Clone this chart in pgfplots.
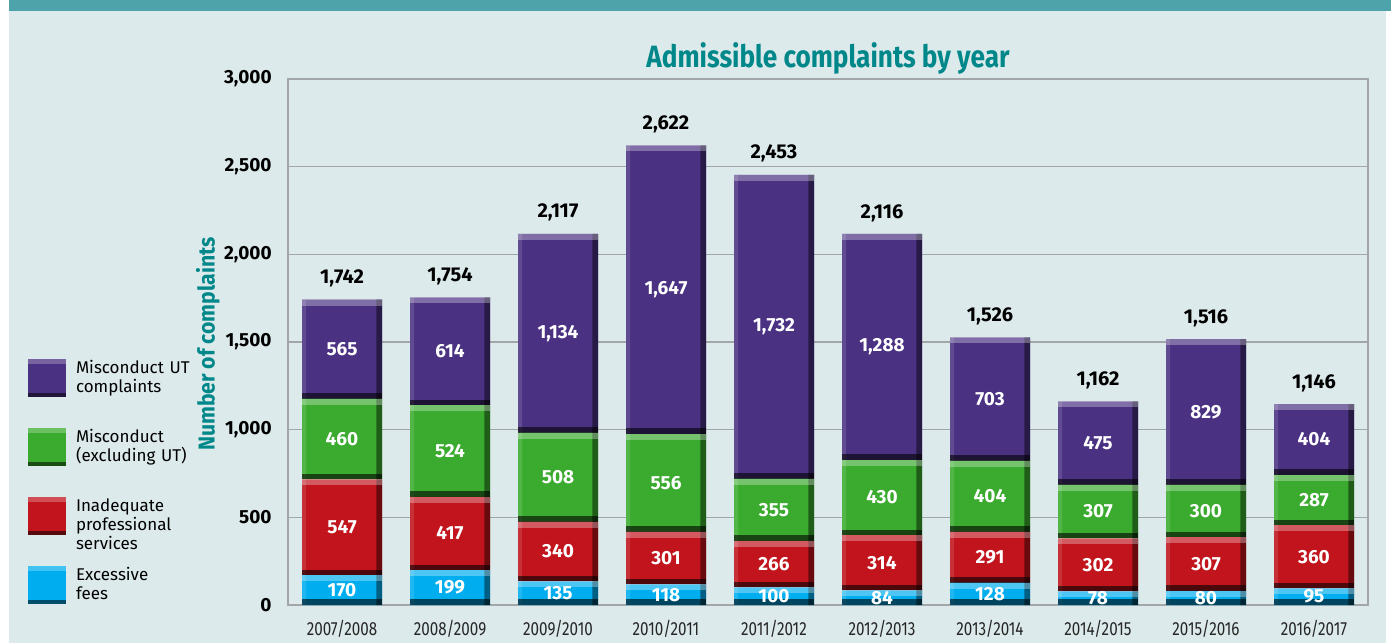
\documentclass[border=0pt]{standalone}
\usepackage{pgfplots}
\pgfplotsset{compat=1.18}
\usepackage{pgfplotstable}
\usepackage{fontspec}
\setmainfont{Fira Sans}
\definecolor{bgc}{HTML}{DDEAEB}
\definecolor{topbar}{HTML}{4EA2A9}
\definecolor{tealt}{HTML}{00878A}
\definecolor{cut}{HTML}{4A3182}
\definecolor{cmis}{HTML}{3AAB2E}
\definecolor{cinad}{HTML}{C1141C}
\definecolor{cfees}{HTML}{00AEEF}
\definecolor{gridc}{HTML}{A3A6A8}

\pgfplotstableread{
x fees inad mis ut
0 170 547 460 565
1 199 417 524 614
2 135 340 508 1134
3 118 301 556 1647
4 100 266 355 1732
5 84 314 430 1288
6 128 291 404 703
7 78 302 307 475
8 80 307 300 829
9 95 360 287 404
}\data

% bevel bands: dark band just above a segment boundary, light band just below
\pgfdeclareplotmark{dkband}{\pgfpathrectanglecorners{\pgfpoint{-20pt}{0pt}}{\pgfpoint{20pt}{2.8pt}}\pgfusepathqfill}
\pgfdeclareplotmark{ltband}{\pgfpathrectanglecorners{\pgfpoint{-20pt}{-3pt}}{\pgfpoint{20pt}{0pt}}\pgfusepathqfill}

\pgfplotsset{common/.style={
  at={(144pt,19pt)}, anchor=south west,
  scale only axis, width=540pt, height=263pt,
  xmin=-0.5, xmax=9.5, ymin=0, ymax=3000,
  /pgf/number format/1000 sep={,},
  /pgf/number format/assume math mode=true,
},
dk/.style={only marks, mark=dkband, mark options={fill=black, draw=none, fill opacity=0.6}},
lt/.style={only marks, mark=ltband, mark options={fill=white, draw=none, fill opacity=0.3}},
lab/.style={draw=none, nodes near coords},
}

\begin{document}
\begin{tikzpicture}
\fill[white] (0,0) rectangle (695.5pt,321.5pt);
\fill[bgc] (4.5pt,0) rectangle (693pt,316pt);
\fill[topbar] (4.5pt,316pt) rectangle (695.5pt,321.5pt);
\begin{axis}[common,
  ybar stacked, bar width=40pt,
  xtick={0,...,9},
  xticklabels={2007/2008,2008/2009,2009/2010,2010/2011,2011/2012,2012/2013,2013/2014,2014/2015,2015/2016,2016/2017},
  ytick={0,500,...,3000},
  ymajorgrids, grid style={gridc, line width=0.8pt},
  axis line style={gridc, line width=0.8pt},
  major tick length=0pt,
  yticklabel style={inner sep=0pt, xshift=-8pt, font=\fontsize{9.5}{10}\selectfont\bfseries},
  xticklabel style={inner sep=0pt, anchor=north, yshift=-7.5pt, xscale=0.8, text=black!85, font=\fontsize{9.5}{10}\selectfont},
  title={\scalebox{0.85}[1]{Admissible complaints by year}},
  title style={at={(axis description cs:0.5,1)}, anchor=base, yshift=-0.5pt, inner sep=0pt, text=tealt, font=\fontsize{15.4}{17}\selectfont\bfseries},
  ylabel={\scalebox{0.92}[1]{Number of complaints}},
  ylabel style={at={(axis description cs:-0.0741,0.496)}, anchor=center, inner sep=0pt, text=tealt, font=\fontsize{11.5}{13}\selectfont\bfseries},
  legend style={at={(axis description cs:-0.24074,0.46768)}, anchor=north west, draw=none, fill=none, inner sep=0pt, outer sep=0pt, row sep=0pt, column sep=5pt,
    nodes={inner sep=0pt, anchor=west, text width=75pt, align=left, text height=7pt, text depth=27.5pt, font=\fontsize{8.5}{9.5}\selectfont}},
  legend cell align=left,
  legend image code/.code={\fill[#1] (0pt,-1.75pt) rectangle (19pt,17.25pt);
    \fill[white, fill opacity=0.25] (0pt,14.75pt) rectangle (19pt,17.25pt);
    \fill[black, fill opacity=0.55] (0pt,-1.75pt) rectangle (19pt,0.25pt);},
  reverse legend,
]
\addplot[fill=cfees, draw=none] table[x=x,y=fees]{\data};
\addplot[fill=cinad, draw=none] table[x=x,y=inad]{\data};
\addplot[fill=cmis, draw=none] table[x=x,y=mis]{\data};
\addplot[fill=cut, draw=none] table[x=x,y=ut]{\data};
\legend{{Excessive\newline fees},{Inadequate\newline professional\newline services},{Misconduct\newline (excluding UT)},{Misconduct UT\newline complaints}}
\end{axis}
\begin{axis}[common, hide axis,
  nodes near coords style={anchor=center, inner sep=0pt, text=white, font=\fontsize{9.5}{10}\selectfont\bfseries},
]
% bevel: right dark strip and left light strip over the whole stack
\addplot[ybar, bar width=2.8pt, bar shift=18.6pt, fill=black, fill opacity=0.45, draw=none] table[x=x, y expr={\thisrow{fees}+\thisrow{inad}+\thisrow{mis}+\thisrow{ut}}]{\data};
\addplot[ybar, bar width=2pt, bar shift=-19pt, fill=white, fill opacity=0.12, draw=none] table[x=x, y expr={\thisrow{fees}+\thisrow{inad}+\thisrow{mis}+\thisrow{ut}}]{\data};
\addplot[dk] table[x=x, y expr={0}]{\data};
\addplot[dk] table[x=x, y expr={\thisrow{fees}}]{\data};
\addplot[dk] table[x=x, y expr={\thisrow{fees}+\thisrow{inad}}]{\data};
\addplot[dk] table[x=x, y expr={\thisrow{fees}+\thisrow{inad}+\thisrow{mis}}]{\data};
\addplot[lt] table[x=x, y expr={\thisrow{fees}}]{\data};
\addplot[lt] table[x=x, y expr={\thisrow{fees}+\thisrow{inad}}]{\data};
\addplot[lt] table[x=x, y expr={\thisrow{fees}+\thisrow{inad}+\thisrow{mis}}]{\data};
\addplot[lt] table[x=x, y expr={\thisrow{fees}+\thisrow{inad}+\thisrow{mis}+\thisrow{ut}}]{\data};
% value labels
\addplot[lab, point meta=explicit] table[x=x, y expr={\thisrow{fees}/2}, meta=fees]{\data};
\addplot[lab, point meta=explicit] table[x=x, y expr={\thisrow{fees}+\thisrow{inad}/2}, meta=inad]{\data};
\addplot[lab, point meta=explicit] table[x=x, y expr={\thisrow{fees}+\thisrow{inad}+\thisrow{mis}/2}, meta=mis]{\data};
\addplot[lab, point meta=explicit] table[x=x, y expr={\thisrow{fees}+\thisrow{inad}+\thisrow{mis}+\thisrow{ut}/2}, meta=ut]{\data};
\addplot[lab, point meta=y, nodes near coords style={anchor=south, yshift=6pt, text=black, font=\fontsize{10}{11}\selectfont\bfseries}] table[x=x, y expr={\thisrow{fees}+\thisrow{inad}+\thisrow{mis}+\thisrow{ut}}]{\data};
\end{axis}
\end{tikzpicture}
\end{document}
